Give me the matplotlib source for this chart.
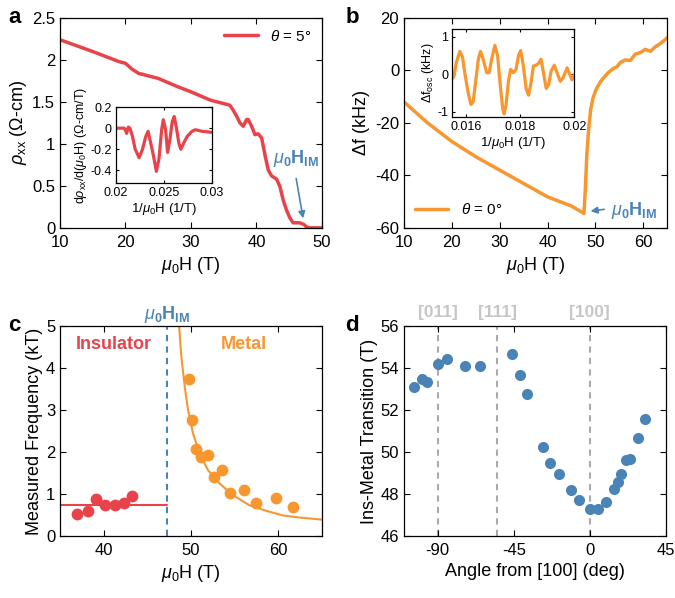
import numpy as np
import matplotlib.pyplot as plt

plt.rcParams['font.family'] = ['Liberation Sans', 'DejaVu Sans']
plt.rcParams['mathtext.fontset'] = 'custom'
plt.rcParams['mathtext.rm'] = 'Liberation Sans'
plt.rcParams['mathtext.it'] = 'Liberation Sans:italic'
plt.rcParams['mathtext.bf'] = 'Liberation Sans:bold'
plt.rcParams['axes.unicode_minus'] = False
plt.rcParams['lines.solid_joinstyle'] = 'round'
plt.rcParams['lines.solid_capstyle'] = 'round'

RED = '#E8434A'
ORANGE = '#F8962F'
BLUE = '#4A84B6'
GRAY = '#AAAAAA'

# ---- panel a: resistivity vs field (theta = 5 deg)
a_H = [10, 15, 19, 20, 21, 22, 25, 28, 30, 33, 35, 35.95, 36.46, 36.97, 37.48, 37.99,
       38.5, 38.75, 39.27, 39.77, 40.27, 40.8, 41.3, 41.8, 42.3, 43.08, 43.59, 44.09,
       44.6, 45.1, 45.6, 46.6, 47.25, 47.66, 48.2, 50]
a_rho = [2.24, 2.10, 1.98, 1.96, 1.89, 1.84, 1.78, 1.68, 1.62, 1.52, 1.48, 1.46, 1.40,
         1.33, 1.25, 1.21, 1.29, 1.29, 1.21, 1.11, 1.12, 1.07, 0.87, 0.69, 0.62, 0.58,
         0.49, 0.33, 0.21, 0.12, 0.06, 0.06, 0.04, 0.01, 0.0, 0.0]

# inset a: derivative vs 1/H
ai_x = [0.02, 0.02086, 0.02103, 0.0211, 0.02128, 0.02145, 0.02172, 0.0220, 0.02241,
        0.02276, 0.0231, 0.02334, 0.02362, 0.0239, 0.02421, 0.02448, 0.02476, 0.02493,
        0.02517, 0.02538, 0.02562, 0.02586, 0.02607, 0.02628, 0.02655, 0.02676, 0.02707,
        0.02741, 0.02793, 0.02828, 0.02897, 0.03]
ai_y = [0.0, 0.0, -0.03, -0.05, 0.01, 0.0, -0.08, -0.2, -0.28, -0.2, -0.08, -0.03, -0.14,
        -0.26, -0.41, -0.29, -0.015, 0.08, -0.015, -0.23, -0.11, 0.06, 0.11, 0.015, -0.14,
        -0.2, -0.14, -0.08, -0.03, -0.015, -0.03, -0.04]

# ---- panel b: frequency shift vs field (theta = 0 deg)
b_H = [10, 15, 20, 25, 30, 35, 40, 45, 47.6, 47.9, 48.2, 48.6, 49.0, 49.5, 50.2, 51.0,
       51.7, 52.7, 53.8, 54.5, 55.2, 56.2, 57.3, 58.3, 59.4, 60.4, 61.5, 62.5, 63.6,
       64.6, 65]
b_df = [-12, -20.1, -27.1, -32.9, -38.0, -43.1, -48.2, -51.7, -54.5, -45, -32, -22, -15,
        -10.5, -7, -4.5, -2.8, -0.8, 0.8, 1.4, 3.0, 4.0, 3.8, 6.2, 6.8, 8.0, 7.3, 9.0,
        10.3, 11.8, 12.5]

# inset b: oscillatory part vs 1/H
bi_x = [0.01547, 0.01556, 0.01565, 0.01578, 0.01588, 0.01596, 0.01609, 0.01619, 0.01627,
        0.01637, 0.01646, 0.01654, 0.01664, 0.01677, 0.01686, 0.01695, 0.01707, 0.01717,
        0.01726, 0.01736, 0.01741, 0.01748, 0.01757, 0.01765, 0.01775, 0.01785, 0.01794,
        0.01802, 0.01812, 0.01822, 0.01831, 0.0184, 0.01849, 0.01859, 0.01868, 0.01877,
        0.01886, 0.01896, 0.01905, 0.01914, 0.01926, 0.01936, 0.01948, 0.01958, 0.01973,
        0.01983, 0.01991, 0.02]
bi_y = [-0.15, -0.06, 0.31, 0.61, 0.45, 0.04, -0.51, -0.81, -0.74, -0.15, 0.40, 0.61,
        0.40, 0.04, 0.04, 0.40, 0.77, 0.50, -0.24, -0.93, -1.06, -0.83, -0.19, 0.13, 0.04,
        0.13, 0.50, 0.63, 0.22, -0.38, -0.56, -0.24, 0.22, 0.24, 0.29, 0.40, 0.04, -0.38,
        -0.28, 0.08, 0.24, 0.04, -0.19, -0.10, 0.17, -0.01, -0.15, -0.01]

# ---- panel c: measured frequencies
ins_H = [36.98, 38.16, 39.08, 40.14, 41.29, 42.35, 43.30]
ins_F = [0.52, 0.60, 0.89, 0.73, 0.73, 0.79, 0.95]
ins_level = 0.75
met_H = [49.78, 50.12, 50.54, 51.11, 51.95, 52.6, 53.59, 54.5, 56.03, 57.48, 59.69, 61.67]
met_F = [3.75, 2.77, 2.08, 1.88, 1.94, 1.41, 1.58, 1.03, 1.09, 0.79, 0.91, 0.69]
fit_H = [48.64, 48.9, 49.29, 49.67, 50.24, 51.0, 51.95, 53.29, 54.81, 56.71, 58.62,
         60.52, 62.43, 65]
fit_F = [5.0, 4.27, 3.55, 3.0, 2.44, 1.96, 1.57, 1.25, 0.97, 0.73, 0.6, 0.49, 0.44, 0.39]
H_IM = 47.3

# ---- panel d: transition field vs angle
d_ang = [-104.2, -99.5, -96.3, -90, -84.7, -73.8, -64.9, -45.9, -41.2, -37.2, -27.5,
         -23.4, -18.3, -11.3, -6.6, 0.1, 4.9, 9.8, 14.3, 16.8, 18.7, 21.3, 23.7, 28.3, 32.6]
d_HIM = [53.11, 53.46, 53.34, 54.19, 54.41, 54.09, 54.09, 54.65, 53.65, 52.76, 50.24,
         49.48, 48.93, 48.18, 47.73, 47.27, 47.27, 47.62, 48.26, 48.58, 48.93, 49.61,
         49.69, 50.69, 51.55]
dir_ang = [-90, -54.7, 0]
dir_lab = ['[011]', '[111]', '[100]']

HIM_LABEL = r'$\mu_\mathbf{0}\mathbf{H}_\mathbf{IM}$'
TICK_FS = 12
LAB_FS = 13


def style(ax, fs=TICK_FS):
    ax.tick_params(direction='in', top=True, right=True, labelsize=fs, length=4, width=0.8)
    ax.tick_params(axis='x', pad=5)
    for s in ax.spines.values():
        s.set_linewidth(0.9)


fig = plt.figure(figsize=(6.75, 5.98), dpi=100)

# a
ax = fig.add_axes([0.0889, 0.619, 0.388, 0.351])
ax.plot(a_H, a_rho, color=RED, lw=2.5, label=r'$\theta$ = 5°')
ax.set_xlim(10, 50)
ax.set_ylim(0, 2.5)
ax.set_xticks([10, 20, 30, 40, 50])
ax.set_yticks([0, 0.5, 1, 1.5, 2, 2.5])
ax.set_yticklabels(['0', '0.5', '1', '1.5', '2', '2.5'])
ax.set_xlabel(r'$\mu_0$H (T)', fontsize=LAB_FS, labelpad=4)
ax.set_ylabel(r'$\rho_{\rm xx}$ ($\Omega$-cm)', fontsize=LAB_FS, labelpad=2)
ax.legend(loc='upper right', frameon=False, fontsize=11, handlelength=2.2,
          borderaxespad=0.3)
ax.text(46.1, 0.83, HIM_LABEL, color=BLUE, fontsize=13, ha='center', va='center')
ax.annotate('', xy=(47.2, 0.08), xytext=(46.0, 0.62),
            arrowprops=dict(arrowstyle='-|>', color=BLUE, lw=1.2, mutation_scale=10))
style(ax)
fig.text(0.012, 0.962, 'a', fontsize=16, fontweight='bold')

axi = fig.add_axes([0.1719, 0.694, 0.142, 0.127])
axi.plot(ai_x, ai_y, color=RED, lw=2.3)
axi.set_xlim(0.02, 0.03)
axi.set_ylim(-0.52, 0.2)
axi.set_xticks([0.02, 0.025, 0.03])
axi.set_xticklabels(['0.02', '0.025', '0.03'])
axi.set_yticks([-0.4, -0.2, 0, 0.2])
axi.set_yticklabels(['-0.4', '-0.2', '0', '0.2'])
axi.set_xlabel(r'1/$\mu_0$H (1/T)', fontsize=9.5, labelpad=1)
axi.set_ylabel(r'd$\rho_{\rm xx}$/d($\mu_0$H) ($\Omega$-cm/T)', fontsize=9, labelpad=1)
style(axi, fs=9)
axi.tick_params(length=2.5, pad=3)

# b
ax = fig.add_axes([0.5985, 0.619, 0.39, 0.351])
ax.plot(b_H, b_df, color=ORANGE, lw=2.5, label=r'$\theta$ = 0°')
ax.set_xlim(10, 65)
ax.set_ylim(-60, 20)
ax.set_xticks([10, 20, 30, 40, 50, 60])
ax.set_yticks([-60, -40, -20, 0, 20])
ax.set_xlabel(r'$\mu_0$H (T)', fontsize=LAB_FS, labelpad=4)
ax.set_ylabel(r'$\Delta$f (kHz)', fontsize=LAB_FS, labelpad=2)
ax.legend(loc='lower left', frameon=False, fontsize=11, handlelength=2.2,
          borderaxespad=0.3)
ax.text(58.0, -53.5, HIM_LABEL, color=BLUE, fontsize=13, ha='center', va='center')
ax.annotate('', xy=(48.4, -53.8), xytext=(52.4, -52.8),
            arrowprops=dict(arrowstyle='-|>', color=BLUE, lw=1.2, mutation_scale=10))
style(ax)
fig.text(0.512, 0.962, 'b', fontsize=16, fontweight='bold')

axi = fig.add_axes([0.670, 0.804, 0.181, 0.147])
axi.plot(bi_x, bi_y, color=ORANGE, lw=2.3)
axi.set_xlim(0.0155, 0.02)
axi.set_ylim(-1.15, 1.2)
axi.set_xticks([0.016, 0.018, 0.02])
axi.set_xticklabels(['0.016', '0.018', '0.02'])
axi.set_yticks([-1, 0, 1])
axi.set_xlabel(r'1/$\mu_0$H (1/T)', fontsize=9.5, labelpad=1)
axi.set_ylabel(r'$\Delta$f$_{\rm osc}$ (kHz)', fontsize=9, labelpad=1)
style(axi, fs=9)
axi.tick_params(length=2.5, pad=3)

# c
ax = fig.add_axes([0.0889, 0.1037, 0.388, 0.351])
ax.plot([35, H_IM], [ins_level, ins_level], color=RED, lw=1.5)
ax.plot(fit_H, fit_F, color=ORANGE, lw=1.5)
ax.plot(ins_H, ins_F, 'o', color=RED, ms=8.5, mec='none')
ax.plot(met_H, met_F, 'o', color=ORANGE, ms=8.5, mec='none')
ax.axvline(H_IM, color=BLUE, ls='--', lw=1.5, dashes=(3, 2.5))
ax.set_xlim(35, 65)
ax.set_ylim(0, 5)
ax.set_xticks([40, 50, 60])
ax.set_yticks([0, 1, 2, 3, 4, 5])
ax.set_xlabel(r'$\mu_0$H (T)', fontsize=LAB_FS, labelpad=4)
ax.set_ylabel('Measured Frequency (kT)', fontsize=LAB_FS, labelpad=2)
ax.text(41.1, 4.55, 'Insulator', color=RED, fontsize=13, fontweight='bold',
        ha='center', va='center')
ax.text(56.1, 4.55, 'Metal', color=ORANGE, fontsize=13, fontweight='bold',
        ha='center', va='center')
ax.text(H_IM, 5.03, HIM_LABEL, color=BLUE, fontsize=13, ha='center', va='bottom',
        clip_on=False)
style(ax)
fig.text(0.012, 0.447, 'c', fontsize=16, fontweight='bold')

# d
ax = fig.add_axes([0.5985, 0.1037, 0.388, 0.351])
for ang, lab in zip(dir_ang, dir_lab):
    ax.axvline(ang, color=GRAY, ls='--', lw=1.5, dashes=(3, 2.5), zorder=1)
    ax.text(ang, 56.3, lab, color='#C6C6C6', fontsize=12.5, fontweight='bold',
            ha='center', va='bottom', clip_on=False)
ax.plot(d_ang, d_HIM, 'o', color=BLUE, ms=8, mec='none', zorder=3)
ax.set_xlim(-110, 45)
ax.set_ylim(46, 56)
ax.set_xticks([-90, -45, 0, 45])
ax.set_yticks([46, 48, 50, 52, 54, 56])
ax.set_xlabel('Angle from [100] (deg)', fontsize=LAB_FS, labelpad=4)
ax.set_ylabel('Ins-Metal Transition (T)', fontsize=LAB_FS, labelpad=2)
style(ax)
fig.text(0.512, 0.447, 'd', fontsize=16, fontweight='bold')

plt.savefig('out.png', dpi=100)
